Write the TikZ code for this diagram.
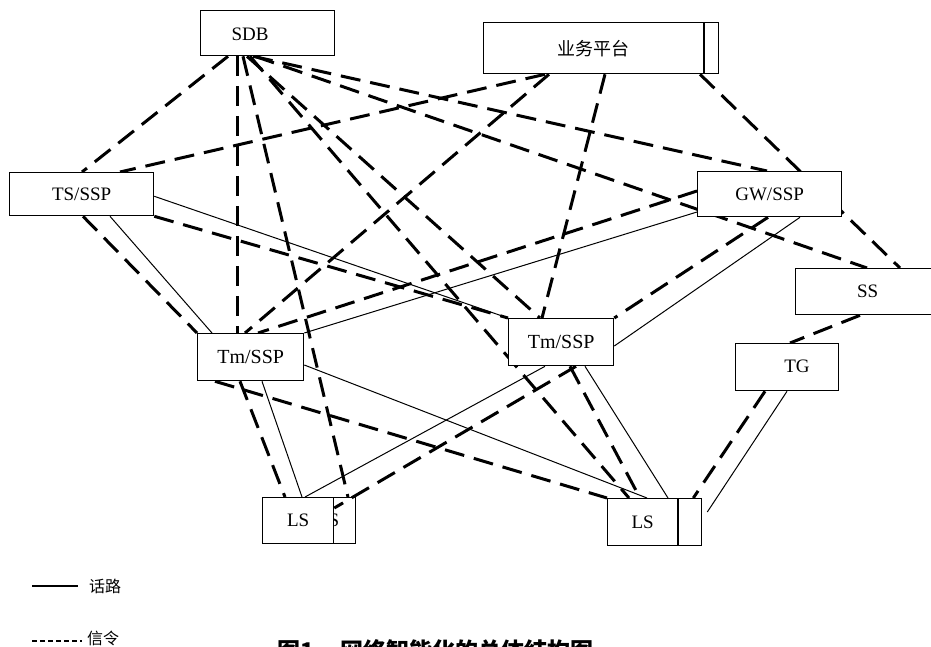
\documentclass[tikz,border=0pt]{standalone}
\usepackage{fontspec}
\setmainfont{Liberation Serif}
\newfontfamily\cjk{Noto Sans CJK SC}
\usetikzlibrary{calc}
\pgfdeclarelayer{links}
\pgfsetlayers{links,main}

\begin{document}
\begin{tikzpicture}[x=1pt,y=-1pt,
  box/.style={draw,line width=1.3pt,fill=white,inner sep=0pt,anchor=north west,
              font=\fontsize{19}{19}\selectfont},
  sig/.style={line width=3pt,dash pattern=on 20pt off 10pt},
  voice/.style={line width=1pt},
  lbl/.style={inner sep=0pt,font=\fontsize{19}{19}\selectfont},
  cjklbl/.style={inner sep=0pt,anchor=west,font=\cjk\fontsize{16}{16}\selectfont}]
\useasboundingbox (0,0) rectangle (931,647);

% ---- network elements ----
\node[box,minimum width=134pt,minimum height=45pt] (sdb) at (200,10) {};
\node[lbl] (sdbt) at (250,34) {SDB};
\node[box,minimum width=220pt,minimum height=51pt,font=\cjk\fontsize{18}{18}\selectfont] (svc) at (483,22) {业务平台};
\node[box,minimum width=14pt,minimum height=51pt,line width=1pt] (svcb) at (svc.north east) {};
\node[box,minimum width=144pt,minimum height=43pt] (ts) at (9,172) {TS/SSP};
\node[box,minimum width=144pt,minimum height=45pt] (gw) at (697,171) {GW/SSP};
\node[box,minimum width=144pt,minimum height=46pt] (ss) at (795,268) {SS};
\node[box,minimum width=106pt,minimum height=47pt,font=\fontsize{20}{20}\selectfont] (tml) at (197,333) {Tm/SSP};
\node[box,minimum width=105pt,minimum height=47pt,font=\fontsize{20}{20}\selectfont] (tmr) at (508,318) {Tm/SSP};
\node[box,minimum width=103pt,minimum height=47pt] (tg) at (735,343) {};
\node[lbl] (tgt) at (797,366) {TG};
\node[box,minimum width=71pt,minimum height=46pt] (lsl) at (262,497) {LS};
\node[box,minimum width=70pt,minimum height=47pt] (lsr) at (607,498) {LS};
\node[box,minimum width=23pt,minimum height=47pt,line width=1pt] (lsr2) at (lsr.north east) {};

\begin{pgfonlayer}{links}
% second LS unit, partly hidden behind the first one
\node[box,minimum width=55pt,minimum height=46pt] (lsl2) at (300,497) {LS};

% signalling links (dashed)
\draw[sig] ($(sdb.south west)+(28,0)$) -- ($(ts.north west)+(73,0)$);
\draw[sig] ($(sdb.south west)+(37,0)$) -- ($(tml.north west)+(40,0)$);
\draw[sig] ($(sdb.south west)+(43,0)$) -- ($(lsl2.north west)+(48,0)$);
\draw[sig] ($(sdb.south west)+(47,0)$) -- ($(tmr.north west)+(32,0)$);
\draw[sig] ($(sdb.south west)+(50,0)$) -- ($(lsr.north west)+(22,0)$);
\draw[sig] ($(sdb.south west)+(53,0)$) -- ($(gw.north west)+(70,0)$);
\draw[sig] ($(sdb.south west)+(55,0)$) -- ($(ss.north west)+(72,0)$);
\draw[sig] ($(svc.south west)+(62,0)$) -- ($(ts.north west)+(111,0)$);
\draw[sig] ($(svc.south west)+(66,0)$) -- ($(tml.north west)+(48,0)$);
\draw[sig] ($(svc.south west)+(122,0)$) -- ($(tmr.north west)+(34,0)$);
\draw[sig] ($(svc.south west)+(217,0)$) -- ($(ss.north west)+(105,0)$);
\draw[sig] ($(ts.south west)+(74,0)$) -- (tml.north west);
\draw[sig] (ts.south east) -- (tmr.north west);
\draw[sig] ($(gw.north west)+(0,20)$) -- ($(tml.north west)+(61,0)$);
\draw[sig] ($(gw.south west)+(71,0)$) -- (tmr.north east);
\draw[sig] ($(ss.south west)+(65,0)$) -- ($(tg.north west)+(55,0)$);
\draw[sig] ($(tg.south west)+(30,0)$) -- ($(lsr2.north west)+(15,0)$);
\draw[sig] ($(tml.south west)+(18,0)$) -- (lsr.north west);
\draw[sig] ($(tml.south west)+(43,0)$) -- ($(lsl.north west)+(23,0)$);
\draw[sig] ($(tmr.south west)+(68,0)$) -- ($(lsl.north east)+(0,11)$);
\draw[sig] ($(tmr.south west)+(62,0)$) -- ($(lsr.north west)+(33,0)$);

% voice trunks (solid)
\draw[voice] ($(ts.south west)+(101,0)$) -- ($(tml.north west)+(15,0)$);
\draw[voice] ($(ts.south east)+(0,-20)$) -- (tmr.north west);
\draw[voice] ($(gw.north west)+(0,41)$) -- (tml.north east);
\draw[voice] ($(gw.south west)+(103,0)$) -- ($(tmr.north east)+(0,28)$);
\draw[voice] ($(tml.north east)+(0,32)$) -- ($(lsr.north west)+(40,0)$);
\draw[voice] ($(tml.south west)+(65,0)$) -- ($(lsl.north west)+(40,0)$);
\draw[voice] ($(tmr.south west)+(37,0)$) -- ($(lsl.north west)+(43,0)$);
\draw[voice] ($(tmr.south west)+(77,0)$) -- ($(lsr.north west)+(61,0)$);
\draw[voice] ($(tg.south west)+(52,0)$) -- ($(lsr2.north east)+(5,14)$);
\end{pgfonlayer}

% ---- legend ----
\draw[line width=1.5pt] (32,586) -- (78,586);
\node[cjklbl] (lgv) at (89,586) {话路};
\draw[line width=1.5pt,dash pattern=on 5pt off 3pt] (32,641) -- (82,641);
\node[cjklbl] (lgs) at (87,638) {信令};

% ---- caption ----
\node[inner sep=0pt,anchor=base west,font=\cjk\bfseries\fontsize{23}{23}\selectfont] (cap)
  at (277,659) {图1\hspace{26pt}网络智能化的总体结构图};
\end{tikzpicture}
\end{document}
